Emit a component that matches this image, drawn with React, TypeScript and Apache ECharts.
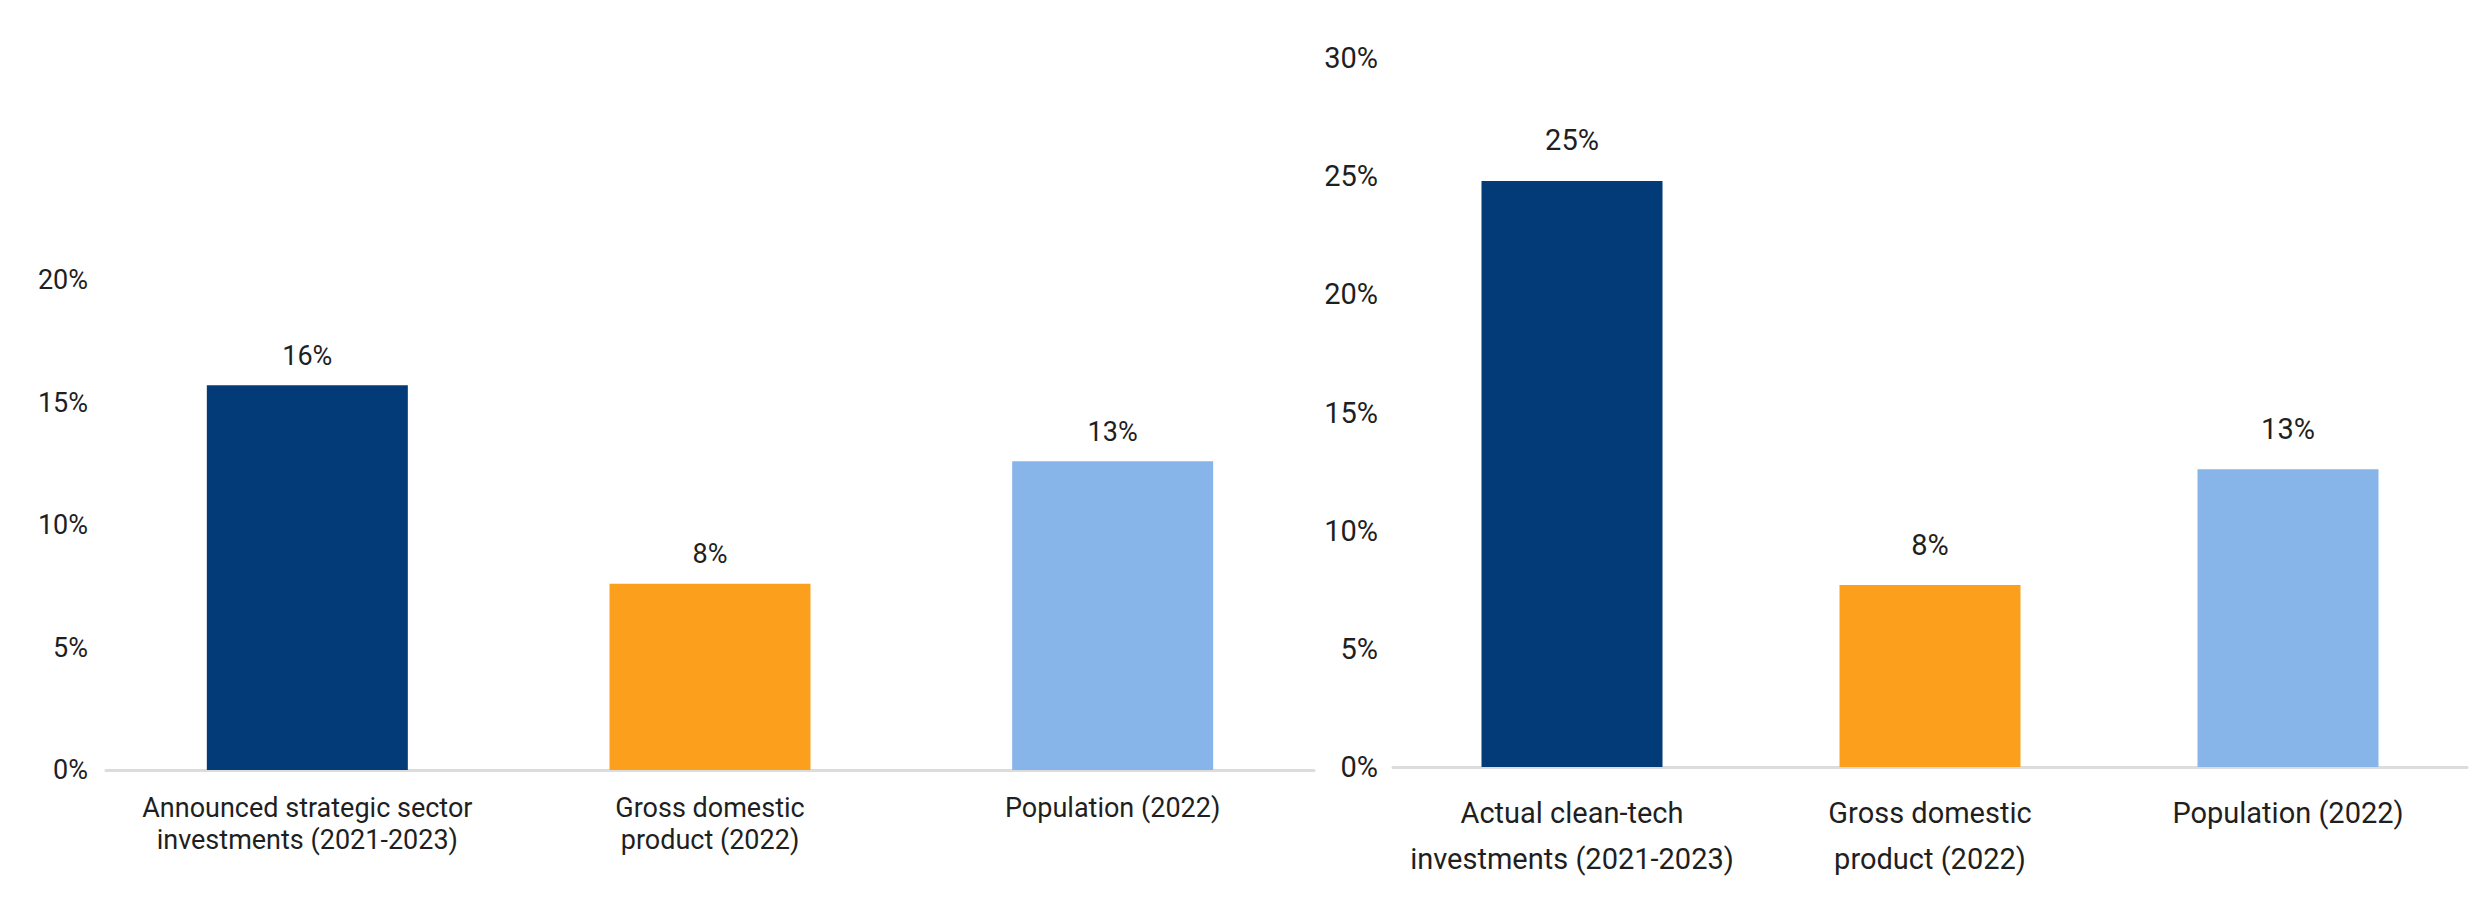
import React, { useEffect, useRef } from "react";
import * as echarts from "echarts";

const leftCategories = [
  "Announced strategic sector\ninvestments (2021-2023)",
  "Gross domestic\nproduct (2022)",
  "Population (2022)",
];
const leftValues = [15.7, 7.6, 12.6];

const rightCategories = [
  "Actual clean-tech\ninvestments (2021-2023)",
  "Gross domestic\nproduct (2022)",
  "Population (2022)",
];
const rightValues = [24.8, 7.7, 12.6];

const barColors = ["#033b78", "#fb9f1c", "#88b5e9"];

const leftTicks = { min: 0, max: 20, interval: 5 };
const rightTicks = { min: 0, max: 30, interval: 5 };

export default function App() {
  const ref = useRef<HTMLDivElement>(null);

  useEffect(() => {
    if (!ref.current) return;
    const chart = echarts.init(ref.current, null, { renderer: "svg" });
    const font = "Roboto, 'Noto Sans', sans-serif";
    const textColor = "#1f1f1f";

    const mkData = (vals: number[]) =>
      vals.map((v, i) => ({ value: v, itemStyle: { color: barColors[i] } }));

    chart.setOption({
      animation: false,
      backgroundColor: "#ffffff",
      grid: [
        { left: 106, top: 280, width: 1208, height: 490 },
        { left: 1393, top: 58, width: 1074, height: 709 },
      ],
      xAxis: [
        {
          type: "category",
          gridIndex: 0,
          data: leftCategories,
          axisLine: { show: true, lineStyle: { color: "#dcdcdc", width: 3 } },
          axisTick: { show: false },
          axisLabel: {
            color: textColor,
            fontFamily: font,
            fontSize: 27,
            lineHeight: 32,
            margin: 22,
            interval: 0,
          },
        },
        {
          type: "category",
          gridIndex: 1,
          data: rightCategories,
          axisLine: { show: true, lineStyle: { color: "#dcdcdc", width: 3 } },
          axisTick: { show: false },
          axisLabel: {
            color: textColor,
            fontFamily: font,
            fontSize: 29,
            lineHeight: 46,
            margin: 23,
            interval: 0,
          },
        },
      ],
      yAxis: [
        {
          type: "value",
          gridIndex: 0,
          min: leftTicks.min,
          max: leftTicks.max,
          interval: leftTicks.interval,
          axisLine: { show: false },
          axisTick: { show: false },
          splitLine: { show: false },
          axisLabel: {
            color: textColor,
            fontFamily: font,
            fontSize: 27,
            margin: 18,
            formatter: (v: number) => `${v}%`,
          },
        },
        {
          type: "value",
          gridIndex: 1,
          min: rightTicks.min,
          max: rightTicks.max,
          interval: rightTicks.interval,
          axisLine: { show: false },
          axisTick: { show: false },
          splitLine: { show: false },
          axisLabel: {
            color: textColor,
            fontFamily: font,
            fontSize: 29,
            margin: 15,
            formatter: (v: number) => `${v}%`,
          },
        },
      ],
      series: [
        {
          type: "bar",
          xAxisIndex: 0,
          yAxisIndex: 0,
          data: mkData(leftValues),
          barWidth: 201,
          label: {
            show: true,
            position: "top",
            distance: 16,
            color: textColor,
            fontFamily: font,
            fontSize: 27,
            formatter: (p: any) => `${Math.round(p.value)}%`,
          },
        },
        {
          type: "bar",
          xAxisIndex: 1,
          yAxisIndex: 1,
          data: mkData(rightValues),
          barWidth: 181,
          label: {
            show: true,
            position: "top",
            distance: 26,
            color: textColor,
            fontFamily: font,
            fontSize: 29,
            formatter: (p: any) => `${Math.round(p.value)}%`,
          },
        },
      ],
    });

    return () => chart.dispose();
  }, []);

  return (
    <div
      ref={ref}
      style={{ position: "absolute", left: 0, top: 0, width: 2471, height: 923 }}
    />
  );
}
